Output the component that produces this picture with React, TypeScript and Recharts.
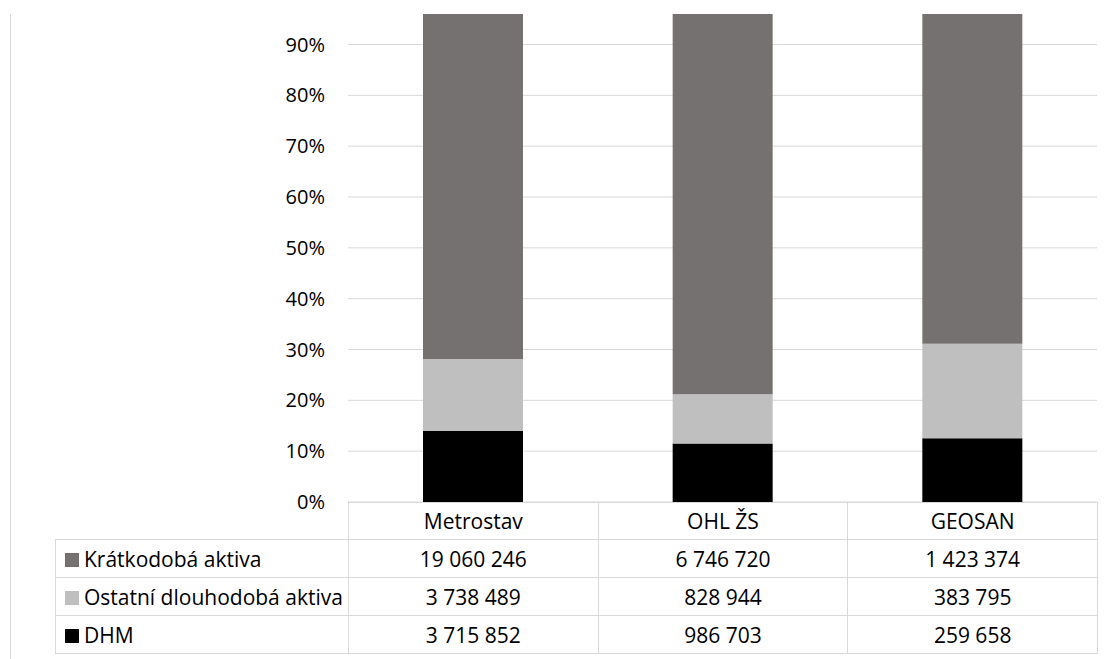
import { BarChart, Bar, XAxis, YAxis, CartesianGrid } from "recharts";

const categories = ["Metrostav", "OHL ŽS", "GEOSAN"];
const kratkodobaAktiva = [19060246, 6746720, 1423374];
const ostatniDlouhodobaAktiva = [3738489, 828944, 383795];
const dhm = [3715852, 986703, 259658];
const yTicks = [0, 0.1, 0.2, 0.3, 0.4, 0.5, 0.6, 0.7, 0.8, 0.9];

// bottom to top in the stack
const SERIES = [
  { key: "dhm", name: "DHM", color: "#000000", values: dhm },
  { key: "ostatni", name: "Ostatní dlouhodobá aktiva", color: "#bfbfbf", values: ostatniDlouhodobaAktiva },
  { key: "kratkodoba", name: "Krátkodobá aktiva", color: "#767171", values: kratkodobaAktiva },
];

const FONT = "'Open Sans', 'Noto Sans', sans-serif";
const LINE = "#d9d9d9";
const PLOT_LEFT = 348;
const PLOT_RIGHT = 1097;
const PLOT_TOP = 14;
const PLOT_BOTTOM = 502;
const LABEL_COL = PLOT_LEFT - 55;

// 100% stacked: each value as a share of its category total
const data = categories.map((name, i) => {
  const total = SERIES.reduce((sum, s) => sum + s.values[i], 0);
  const row: Record<string, string | number> = { name };
  for (const s of SERIES) row[s.key] = s.values[i] / total;
  return row;
});

const fmt = (v: number) => String(v).replace(/\B(?=(\d{3})+(?!\d))/g, " ");

export default function App() {
  const colW = (PLOT_RIGHT - PLOT_LEFT) / categories.length;
  const cell = {
    borderTop: `1px solid ${LINE}`,
    borderLeft: `1px solid ${LINE}`,
    borderRight: `1px solid ${LINE}`,
    borderBottom: `1px solid ${LINE}`,
    padding: 0,
    textAlign: "center" as const,
  };
  const tableRows = [...SERIES].reverse();

  return (
    <div
      style={{
        position: "absolute",
        left: 0,
        top: 0,
        width: 1113,
        height: 659,
        overflow: "hidden",
        background: "#fff",
        fontFamily: FONT,
        color: "#000",
      }}
    >
      <div style={{ position: "absolute", left: 10, top: PLOT_TOP, width: 1, height: 659 - PLOT_TOP, background: LINE }} />
      <div style={{ position: "absolute", left: 0, top: 0 }}>
        <BarChart
          width={1113}
          height={PLOT_BOTTOM + 30}
          data={data}
          margin={{ top: PLOT_TOP, right: 1113 - PLOT_RIGHT, left: 0, bottom: 30 }}
          barSize={100}
        >
          <CartesianGrid vertical={false} syncWithTicks stroke={LINE} strokeWidth={1} />
          <XAxis dataKey="name" hide />
          <YAxis
            width={PLOT_LEFT}
            domain={[0, 0.96]}
            allowDataOverflow
            ticks={yTicks}
            interval={0}
            tickFormatter={(v: number) => `${Math.round(v * 100)}%`}
            axisLine={false}
            tickLine={false}
            tickSize={0}
            tickMargin={23}
            tick={{ fill: "#000", fontSize: 20, fontFamily: FONT }}
          />
          {SERIES.map((s) => (
            <Bar key={s.key} dataKey={s.key} name={s.name} stackId="a" fill={s.color} isAnimationActive={false} />
          ))}
        </BarChart>
      </div>
      <table
        style={{
          position: "absolute",
          left: 55,
          top: PLOT_BOTTOM,
          borderCollapse: "collapse",
          tableLayout: "fixed",
          width: LABEL_COL + colW * categories.length,
          fontSize: 21,
          fontFamily: FONT,
        }}
      >
        <colgroup>
          <col style={{ width: LABEL_COL }} />
          {categories.map((c) => (
            <col key={c} style={{ width: colW }} />
          ))}
        </colgroup>
        <tbody>
          <tr style={{ height: 37 }}>
            <td style={{ ...cell, borderTop: "none", borderLeft: "none" }} />
            {categories.map((c) => (
              <td key={c} style={cell}>
                {c}
              </td>
            ))}
          </tr>
          {tableRows.map((s) => (
            <tr key={s.key} style={{ height: 38 }}>
              <td style={{ ...cell, textAlign: "left", whiteSpace: "nowrap" }}>
                <span
                  style={{
                    display: "inline-block",
                    width: 14,
                    height: 14,
                    background: s.color,
                    marginLeft: 9,
                    marginRight: 5,
                  }}
                />
                {s.name}
              </td>
              {s.values.map((v, i) => (
                <td key={categories[i]} style={cell}>
                  {fmt(v)}
                </td>
              ))}
            </tr>
          ))}
        </tbody>
      </table>
    </div>
  );
}
